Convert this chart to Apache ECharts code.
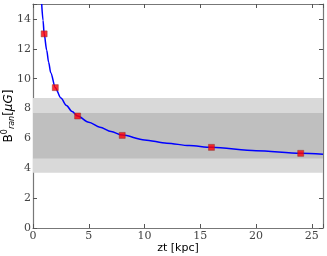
<!DOCTYPE html>
<html><head><meta charset="utf-8">
<script src="https://cdn.jsdelivr.net/npm/echarts@6/dist/echarts.min.js"></script>
<style>html,body{margin:0;padding:0;background:#fff}#c{width:327px;height:256px}</style>
</head><body><div id="c"></div>
<script>
// Model curve
const curveX = [0.78, 0.9, 1.0, 1.23, 1.4, 1.59, 2.0, 2.5, 3.0, 3.5, 4.0, 5.0, 6.0, 7.0, 8.0, 10.0, 12.0, 14.0, 16.0, 20.0, 24.0, 26.0];
const curveY = [15.0, 13.9, 13.0, 11.9, 11.1, 10.4, 9.4, 8.7, 8.2, 7.8, 7.5, 7.08, 6.75, 6.46, 6.22, 5.9, 5.68, 5.52, 5.4, 5.17, 5.0, 4.94];
// Data points (red squares)
const pointX = [1, 2, 4, 8, 16, 24];
const pointY = [13.0, 9.4, 7.5, 6.2, 5.4, 5.0];
// Shaded bands [low, high]
const outerBand = [3.7, 8.7];
const innerBand = [4.65, 7.7];
// Axis ticks
const xTicks = [0, 5, 10, 15, 20, 25];
const yTicks = [0, 2, 4, 6, 8, 10, 12, 14];

const chart = echarts.init(document.getElementById('c'), null, {renderer: 'canvas'});
const serif = '"DejaVu Serif", "Liberation Serif", serif';
const tickStyle = {show: true, inside: true, length: 4, lineStyle: {color: '#555', width: 1}};
const lineStyle = {show: true, onZero: false, lineStyle: {color: '#777', width: 1.2}};

chart.setOption({
  animation: false,
  grid: {left: 33, right: 4, top: 4, bottom: 28, containLabel: false, outerBoundsMode: 'none'},
  xAxis: [{
    type: 'value', min: 0, max: 26, interval: 5,
    axisLine: lineStyle, axisTick: tickStyle, splitLine: {show: false},
    axisLabel: {color: '#444', fontFamily: serif, fontSize: 11, margin: 3,
      formatter: v => xTicks.includes(v) ? String(v) : ''},
    name: 'zt [kpc]', nameLocation: 'middle', nameGap: 15, nameMoveOverlap: false,
    nameTextStyle: {fontFamily: '"DejaVu Sans", sans-serif', fontSize: 11, color: '#000'}
  }, {
    type: 'value', min: 0, max: 26, interval: 5, position: 'top',
    axisLine: lineStyle, axisTick: tickStyle, axisLabel: {show: false}, splitLine: {show: false}
  }],
  yAxis: [{
    type: 'value', min: 0, max: 15, interval: 2,
    axisLine: lineStyle, axisTick: tickStyle, splitLine: {show: false},
    axisLabel: {color: '#444', fontFamily: serif, fontSize: 11, margin: 2,
      formatter: v => yTicks.includes(v) ? String(v) : ''},
    name: '{b|B}{sup|0}{sub|ran}{t|[}{it|μG}{t|]}', nameLocation: 'middle', nameGap: 16, nameMoveOverlap: false,
    nameTextStyle: {
      color: '#000',
      rich: {
        b: {fontFamily: '"DejaVu Sans", sans-serif', fontSize: 12, color: '#000'},
        sup: {fontFamily: '"DejaVu Sans", sans-serif', fontSize: 8, color: '#000', padding: [0, 0, 8, 0]},
        sub: {fontFamily: '"DejaVu Sans", sans-serif', fontStyle: 'italic', fontSize: 8, color: '#000', padding: [6, 0, 0, 0]},
        t: {fontFamily: '"DejaVu Sans", sans-serif', fontSize: 12, color: '#000'},
        it: {fontFamily: '"DejaVu Sans", sans-serif', fontStyle: 'italic', fontSize: 12, color: '#000'}
      }
    }
  }, {
    type: 'value', min: 0, max: 15, interval: 2, position: 'right',
    axisLine: lineStyle, axisTick: tickStyle, axisLabel: {show: false}, splitLine: {show: false}
  }],
  series: [{
    type: 'line', data: [], silent: true,
    markArea: {silent: true, itemStyle: {color: '#d9d9d9'},
      data: [[{yAxis: outerBand[0]}, {yAxis: outerBand[1]}]]}
  }, {
    type: 'line', data: [], silent: true,
    markArea: {silent: true, itemStyle: {color: '#bfbfbf'},
      data: [[{yAxis: innerBand[0]}, {yAxis: innerBand[1]}]]}
  }, {
    type: 'line', data: curveX.map((x, i) => [x, curveY[i]]),
    smooth: 0.3, smoothMonotone: 'x', showSymbol: false, clip: true,
    lineStyle: {color: '#0000ff', width: 1.5}, z: 3
  }, {
    type: 'scatter', data: pointX.map((x, i) => [x, pointY[i]]),
    symbol: 'rect', symbolSize: 6,
    itemStyle: {color: '#ff0000', borderColor: '#8a3030', borderWidth: 0.6}, z: 4
  }]
});
</script></body></html>
